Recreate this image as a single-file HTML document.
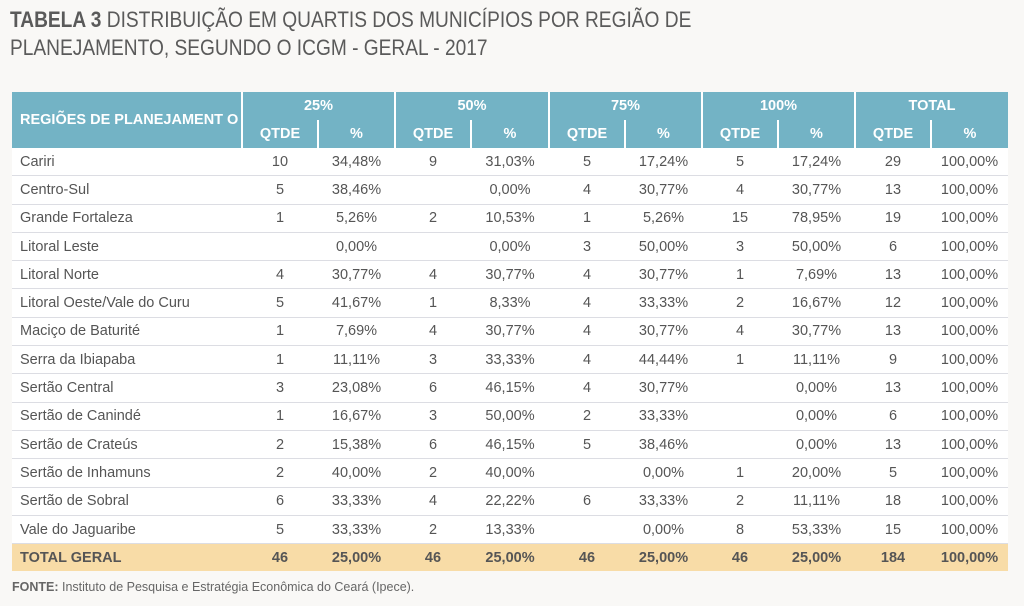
<!DOCTYPE html>
<html><head><meta charset="utf-8"><style>
body{margin:0;width:1024px;height:606px;background:#f9f8f6;font-family:"Liberation Sans",sans-serif;color:#555;overflow:hidden;position:relative}
.t{position:absolute;left:10px;font-size:22px;white-space:nowrap;transform:scaleX(.87);transform-origin:left;color:#5a5a5a}
table{position:absolute;left:12px;top:92px;width:996px;border-collapse:collapse;background:#fff;font-size:14.5px;table-layout:fixed}
th{background:#73b3c5;color:#fff;font-weight:bold;padding:0;font-size:14.5px}
td{height:27.3px;padding:0;text-align:center;border-bottom:1px solid #dcdde3;color:#555}
td:first-child{text-align:left;padding-left:8px}
.g{border-left:2px solid #fff}
.s{border-left:2px solid #fff}
tr.tot td{background:#f8dca7;font-weight:bold;border:none;height:27px;color:#555}
.f{position:absolute;left:12px;top:580px;font-size:12.5px;color:#666}
</style></head><body>
<div class="t" style="top:7px"><b>TABELA 3</b> DISTRIBUIÇÃO EM QUARTIS DOS MUNICÍPIOS POR REGIÃO DE</div>
<div class="t" style="top:35px">PLANEJAMENTO, SEGUNDO O ICGM - GERAL - 2017</div>
<table>
<colgroup><col style="width:230px"><col style="width:76px"><col style="width:77px"><col style="width:76px"><col style="width:78px"><col style="width:76px"><col style="width:77px"><col style="width:76px"><col style="width:77px"><col style="width:76px"><col style="width:77px"></colgroup>
<tr style="height:28px"><th rowspan="2" style="text-align:left;padding-left:8px">REGIÕES DE PLANEJAMENT O</th><th colspan="2" class="g">25%</th><th colspan="2" class="g">50%</th><th colspan="2" class="g">75%</th><th colspan="2" class="g">100%</th><th colspan="2" class="g">TOTAL</th></tr>
<tr style="height:28px"><th class="g">QTDE</th><th class="s">%</th><th class="g">QTDE</th><th class="s">%</th><th class="g">QTDE</th><th class="s">%</th><th class="g">QTDE</th><th class="s">%</th><th class="g">QTDE</th><th class="s">%</th></tr>
<tr><td>Cariri</td><td>10</td><td>34,48%</td><td>9</td><td>31,03%</td><td>5</td><td>17,24%</td><td>5</td><td>17,24%</td><td>29</td><td>100,00%</td></tr>
<tr><td>Centro-Sul</td><td>5</td><td>38,46%</td><td></td><td>0,00%</td><td>4</td><td>30,77%</td><td>4</td><td>30,77%</td><td>13</td><td>100,00%</td></tr>
<tr><td>Grande Fortaleza</td><td>1</td><td>5,26%</td><td>2</td><td>10,53%</td><td>1</td><td>5,26%</td><td>15</td><td>78,95%</td><td>19</td><td>100,00%</td></tr>
<tr><td>Litoral Leste</td><td></td><td>0,00%</td><td></td><td>0,00%</td><td>3</td><td>50,00%</td><td>3</td><td>50,00%</td><td>6</td><td>100,00%</td></tr>
<tr><td>Litoral Norte</td><td>4</td><td>30,77%</td><td>4</td><td>30,77%</td><td>4</td><td>30,77%</td><td>1</td><td>7,69%</td><td>13</td><td>100,00%</td></tr>
<tr><td>Litoral Oeste/Vale do Curu</td><td>5</td><td>41,67%</td><td>1</td><td>8,33%</td><td>4</td><td>33,33%</td><td>2</td><td>16,67%</td><td>12</td><td>100,00%</td></tr>
<tr><td>Maciço de Baturité</td><td>1</td><td>7,69%</td><td>4</td><td>30,77%</td><td>4</td><td>30,77%</td><td>4</td><td>30,77%</td><td>13</td><td>100,00%</td></tr>
<tr><td>Serra da Ibiapaba</td><td>1</td><td>11,11%</td><td>3</td><td>33,33%</td><td>4</td><td>44,44%</td><td>1</td><td>11,11%</td><td>9</td><td>100,00%</td></tr>
<tr><td>Sertão Central</td><td>3</td><td>23,08%</td><td>6</td><td>46,15%</td><td>4</td><td>30,77%</td><td></td><td>0,00%</td><td>13</td><td>100,00%</td></tr>
<tr><td>Sertão de Canindé</td><td>1</td><td>16,67%</td><td>3</td><td>50,00%</td><td>2</td><td>33,33%</td><td></td><td>0,00%</td><td>6</td><td>100,00%</td></tr>
<tr><td>Sertão de Crateús</td><td>2</td><td>15,38%</td><td>6</td><td>46,15%</td><td>5</td><td>38,46%</td><td></td><td>0,00%</td><td>13</td><td>100,00%</td></tr>
<tr><td>Sertão de Inhamuns</td><td>2</td><td>40,00%</td><td>2</td><td>40,00%</td><td></td><td>0,00%</td><td>1</td><td>20,00%</td><td>5</td><td>100,00%</td></tr>
<tr><td>Sertão de Sobral</td><td>6</td><td>33,33%</td><td>4</td><td>22,22%</td><td>6</td><td>33,33%</td><td>2</td><td>11,11%</td><td>18</td><td>100,00%</td></tr>
<tr><td>Vale do Jaguaribe</td><td>5</td><td>33,33%</td><td>2</td><td>13,33%</td><td></td><td>0,00%</td><td>8</td><td>53,33%</td><td>15</td><td>100,00%</td></tr>
<tr class="tot"><td>TOTAL GERAL</td><td>46</td><td>25,00%</td><td>46</td><td>25,00%</td><td>46</td><td>25,00%</td><td>46</td><td>25,00%</td><td>184</td><td>100,00%</td></tr>
</table>
<div class="f"><b>FONTE:</b> Instituto de Pesquisa e Estratégia Econômica do Ceará (Ipece).</div>
</body></html>
